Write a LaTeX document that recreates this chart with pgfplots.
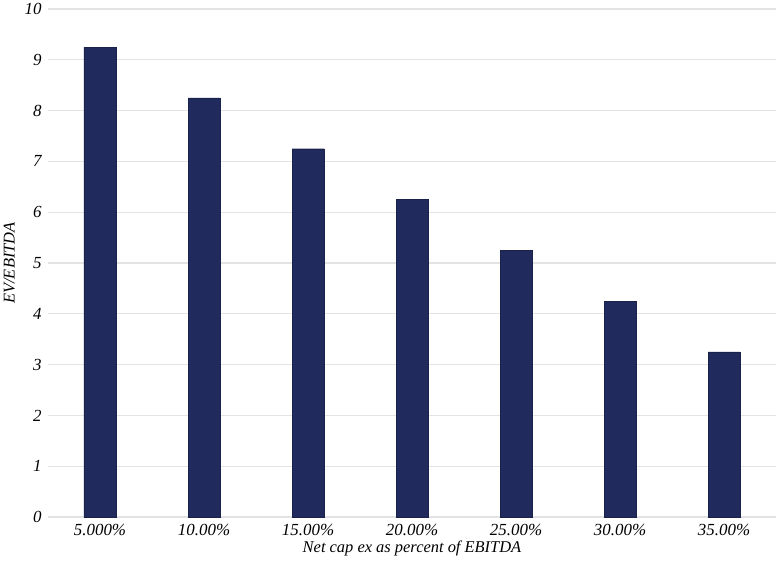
\documentclass[border=0pt]{standalone}
\usepackage{pgfplots}
\pgfplotsset{compat=1.18}
\usepackage{fontspec}
\setmainfont{Liberation Serif}
\definecolor{barblue}{HTML}{212A5C}
\definecolor{gridgray}{HTML}{E3E3E3}
\begin{document}
\begin{tikzpicture}
\begin{axis}[
  at={(0,0)}, anchor=south west,
  scale only axis,
  width=728bp, height=508bp,
  xmin=-0.5, xmax=6.5,
  ymin=0, ymax=10,
  ytick={0,1,...,10},
  xtick=data,
  xticklabels={5.000\%,10.00\%,15.00\%,20.00\%,25.00\%,30.00\%,35.00\%},
  axis line style={draw=none},
  tick style={draw=none},
  ymajorgrids,
  grid style={gridgray, line width=1.1pt},
  ybar, bar width=32bp,
  font=\fontsize{17}{20}\selectfont\itshape,
  tick label style={font=\fontsize{17}{20}\selectfont\itshape},
  /pgf/number format/assume math mode=true,
  yticklabel style={anchor=east, xshift=-3bp},
  xticklabel style={yshift=1bp},
  xlabel={Net cap ex as percent of EBITDA},
  ylabel={EV/EBITDA},
  label style={font=\fontsize{16.5}{19}\selectfont\itshape},
  xlabel style={at={(axis description cs:0.5,0)}, anchor=center, yshift=-31bp},
  ylabel style={at={(axis description cs:-0.053,0.5)}, anchor=center},
]
\addplot[fill=barblue, draw=barblue!80!black] coordinates {
  (0,9.25) (1,8.25) (2,7.25) (3,6.25) (4,5.25) (5,4.25) (6,3.25)
};
\end{axis}
\path[use as bounding box] (-48bp,-44bp) rectangle (731bp,517bp);
\end{tikzpicture}
\end{document}
